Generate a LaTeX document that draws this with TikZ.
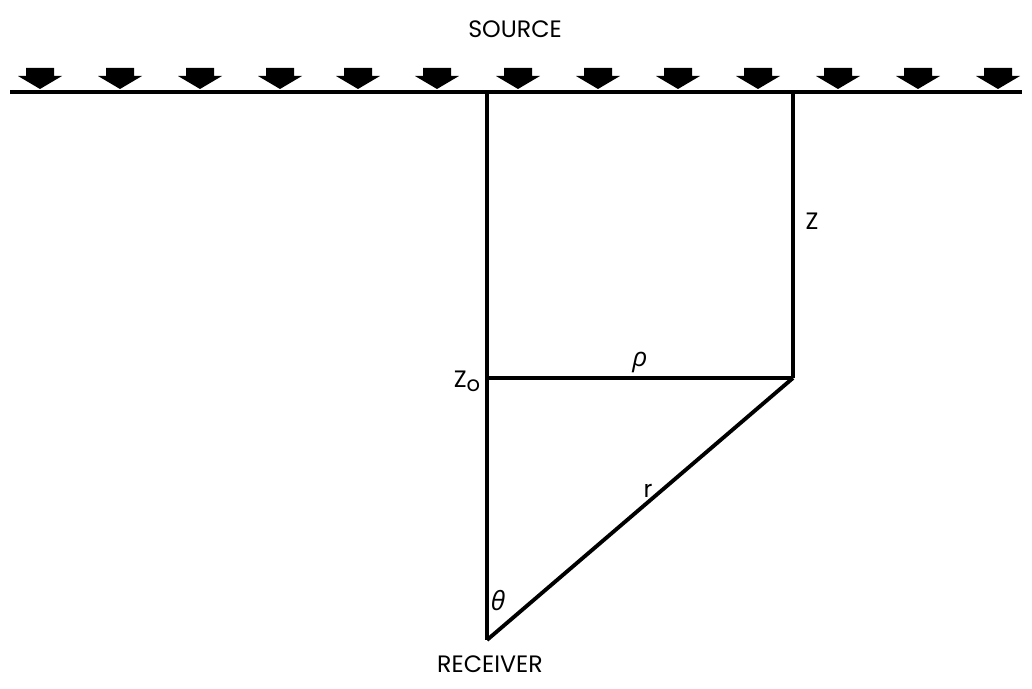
\documentclass[tikz,border=0pt]{standalone}
\usepackage{fontspec}
\setmainfont{Poppins}
\newfontfamily\grk{Open Sans}
\begin{document}
\begin{tikzpicture}[x=0.02cm,y=-0.02cm,
  lbl/.style={font=\fontsize{13.5}{15}\selectfont,inner sep=0pt},
  glbl/.style={font=\grk\itshape\fontsize{15}{17}\selectfont,inner sep=0pt},
  heavy/.style={line width=2.2pt},
  srcarrow/.style={fill=black}]
\useasboundingbox (0,0) rectangle (1032,689);
\node[lbl] (source) at (515,29) {SOURCE};
\coordinate (sl) at (10,92);
\coordinate (sr) at (1022,92);
\coordinate (top) at (487,92);
\coordinate (ztop) at (793,92);
\coordinate (zo) at (487,378);
\coordinate (pt) at (793,378);
\coordinate (rcv) at (487,640);
% source line and arrows
\draw[line width=1.8pt] (sl) -- (sr);
\foreach \x in {40,120,200,280,358,437,518,598,678,758,838,918,998}
  \fill[srcarrow] (\x-14,68) -- (\x+14,68) -- (\x+14,76) -- (\x+22,76)
    -- (\x,89) -- (\x-22,76) -- (\x-14,76) -- cycle;
% geometry
\draw[heavy] (top) -- (rcv);
\draw[heavy] (ztop) -- (pt);
\draw[heavy] (zo) -- (pt);
\draw[heavy,line join=round] (pt) -- (rcv);
\node[lbl] (zlabel) at (812,221) {Z};
\node[lbl] (zolabel) at (467,381) {Z\raisebox{-0.3ex}{\fontsize{12}{13}\selectfont o}};
\node[glbl] (rho) at (640,362) {ρ};
\node[lbl] (r) at (648,491) {r};
\node[glbl] (theta) at (498,601) {θ};
\node[lbl] (receiver) at (490,664) {RECEIVER};
\end{tikzpicture}
\end{document}
